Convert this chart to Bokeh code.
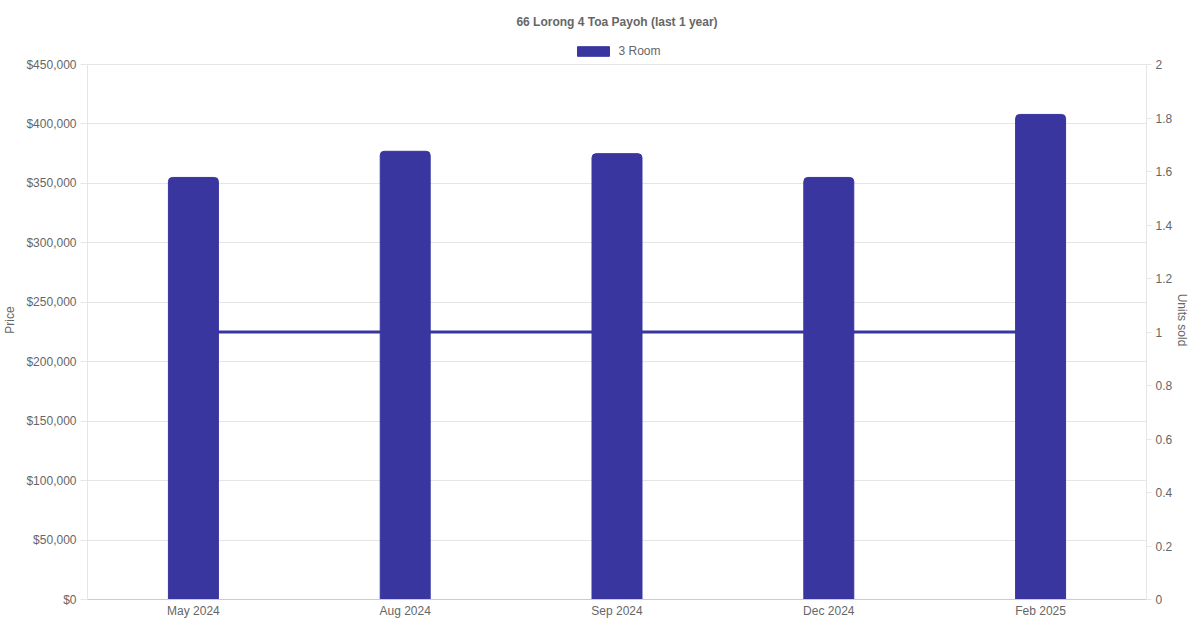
from bokeh.plotting import figure
from bokeh.models import (ColumnDataSource, Range1d, LinearAxis, NumeralTickFormatter,
                          FixedTicker, CustomJSTickFormatter, Legend, LegendItem, FactorRange)
from bokeh.embed import file_html
from bokeh.resources import INLINE

chart_title = "66 Lorong 4 Toa Payoh (last 1 year)"
months = ["May 2024", "Aug 2024", "Sep 2024", "Dec 2024", "Feb 2025"]
prices = [355000, 377000, 375000, 355000, 408000]
units_sold = [1, 1, 1, 1, 1]
series_name = "3 Room"
price_ticks = [0, 50000, 100000, 150000, 200000, 250000, 300000, 350000, 400000, 450000]
unit_ticks = [0, 0.2, 0.4, 0.6, 0.8, 1, 1.2, 1.4, 1.6, 1.8, 2]

FONT = "Liberation Sans"
TXT = "#666666"
GRID = "#e5e5e5"
BAR = "#3936a0"

FRAME_H = 559      # frame incl. legend strip on top
PLOT_H = 535       # height of the 0..max value area
head = FRAME_H / PLOT_H

src = ColumnDataSource(dict(month=months, price=prices, units=units_sold))

p = figure(frame_width=1059, frame_height=FRAME_H, x_range=FactorRange(*months),
           y_range=Range1d(0, price_ticks[-1] * head), output_backend="svg", toolbar_location=None,
           min_border_left=80, min_border_right=40, min_border_top=37, min_border_bottom=18)
p.extra_y_ranges = {"units": Range1d(0, unit_ticks[-1] * head)}

p.title.text = chart_title
p.title.align = "center"
p.title.text_font = FONT
p.title.text_font_size = "12px"
p.title.text_font_style = "bold"
p.title.text_color = TXT
p.title.standoff = 24

p.outline_line_color = None
p.background_fill_color = "white"

ln = p.line(x="month", y="units", source=src, y_range_name="units", line_width=3, line_color=BAR)
bars = p.vbar(x="month", top="price", source=src, width=0.236, fill_color=BAR,
              line_color=BAR, line_width=1, border_radius=(4, 4, 0, 0))

# left axis
ya = p.yaxis[0]
ya.ticker = FixedTicker(ticks=price_ticks)
ya.formatter = NumeralTickFormatter(format="$0,0")
ya.axis_label = "Price"
ya.bounds = (price_ticks[0], price_ticks[-1])

# right axis
ra = LinearAxis(y_range_name="units", ticker=FixedTicker(ticks=unit_ticks),
                formatter=CustomJSTickFormatter(code="return String(Math.round(tick*10)/10);"),
                axis_label="Units sold", bounds=(unit_ticks[0], unit_ticks[-1]))
p.add_layout(ra, "right")

for ax in [ya, ra]:
    ax.axis_line_color = GRID
    ax.major_tick_line_color = GRID
    ax.minor_tick_line_color = None
    ax.major_tick_in = 0
    ax.major_label_text_font = FONT
    ax.major_label_text_font_size = "12px"
    ax.major_label_text_color = TXT
    ax.axis_label_text_font = FONT
    ax.axis_label_text_font_size = "12px"
    ax.axis_label_text_font_style = "normal"
    ax.axis_label_text_color = TXT
ya.major_tick_out = 7
ya.major_label_standoff = 4
ya.axis_label_standoff = 6
ra.major_tick_out = 5
ra.major_label_standoff = 4
ra.axis_label_standoff = 0

xa = p.xaxis[0]
xa.axis_line_color = "#cccccc"
xa.major_tick_line_color = None
xa.major_tick_out = 0
xa.major_tick_in = 0
xa.major_label_standoff = 4
xa.major_label_text_font = FONT
xa.major_label_text_font_size = "12px"
xa.major_label_text_color = TXT

p.xgrid.grid_line_color = None
p.ygrid.grid_line_color = GRID
p.ygrid.ticker = FixedTicker(ticks=price_ticks)

legend = Legend(items=[LegendItem(label=series_name, renderers=[bars])],
                orientation="horizontal", location="top_center",
                glyph_width=40, glyph_height=12, label_height=12, label_text_font=FONT,
                label_text_font_size="12px", label_text_color=TXT,
                border_line_alpha=0, background_fill_alpha=0,
                padding=4, margin=0, label_standoff=6)
p.add_layout(legend)

open("out.html", "w").write(file_html(p, INLINE))
